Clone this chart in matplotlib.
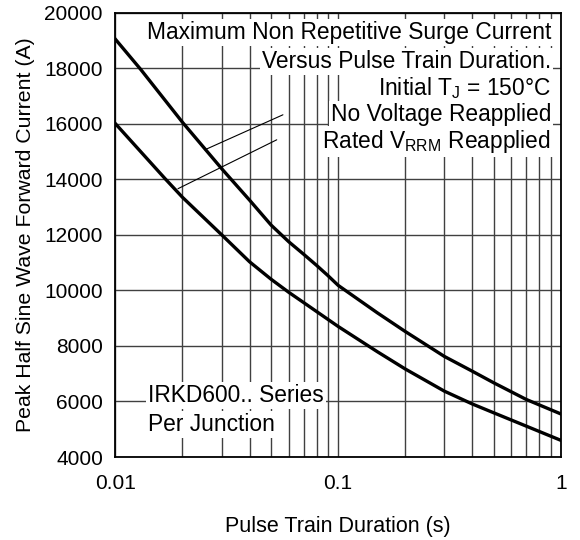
import matplotlib
matplotlib.use("Agg")
import matplotlib.pyplot as plt
from matplotlib.ticker import FixedLocator, NullFormatter, FixedFormatter

# Data
no_volt_t = [0.01, 0.013, 0.02, 0.03, 0.04, 0.05, 0.06, 0.07, 0.08, 0.09, 0.1,
             0.15, 0.2, 0.3, 0.4, 0.5, 0.7, 1.0]
no_volt_i = [19040, 17950, 16050, 14380, 13250, 12350, 11750, 11300, 10900, 10530, 10180,
             9190, 8520, 7620, 7090, 6670, 6070, 5550]
rated_t = [0.01, 0.0168, 0.02, 0.03, 0.04, 0.05, 0.06, 0.07, 0.1, 0.15, 0.2, 0.3,
           0.4, 0.5, 0.7, 1.0]
rated_i = [16000, 14000, 13350, 12000, 11030, 10400, 9930, 9560, 8700, 7790, 7170, 6370,
           5910, 5590, 5110, 4600]

x_ticks = [0.01, 0.1, 1]
x_ticklabels = ["0.01", "0.1", "1"]
x_minor = [0.02, 0.03, 0.04, 0.05, 0.06, 0.07, 0.08, 0.09,
           0.2, 0.3, 0.4, 0.5, 0.6, 0.7, 0.8, 0.9]
y_ticks = [4000, 6000, 8000, 10000, 12000, 14000, 16000, 18000, 20000]

plt.rcParams['font.family'] = ['Liberation Sans', 'DejaVu Sans']

fig = plt.figure(figsize=(5.8, 5.4), dpi=100)
ax = fig.add_axes([0.199, 0.1537, 0.768, 0.823])

ax.set_xscale('log')
ax.set_xlim(0.01, 1)
ax.set_ylim(4000, 20000)

ax.xaxis.set_major_locator(FixedLocator(x_ticks))
ax.xaxis.set_major_formatter(FixedFormatter(x_ticklabels))
ax.xaxis.set_minor_locator(FixedLocator(x_minor))
ax.xaxis.set_minor_formatter(NullFormatter())
ax.set_yticks(y_ticks)
ax.set_yticklabels([str(v) for v in y_ticks])

ax.tick_params(axis='both', which='both', length=0, labelsize=15)
ax.tick_params(axis='x', pad=12)
ax.tick_params(axis='y', pad=9)

ax.grid(True, which='both', axis='x', color='#404040', lw=1.0)
ax.grid(True, which='major', axis='y', color='#404040', lw=1.0)
ax.set_axisbelow(True)
for s in ax.spines.values():
    s.set_linewidth(1.3)
    s.set_color('black')

ax.plot(no_volt_t, no_volt_i, color='black', lw=2.4, zorder=3)
ax.plot(rated_t, rated_i, color='black', lw=2.4, zorder=3)

ax.set_xlabel("Pulse Train Duration (s)", fontsize=15.5, labelpad=17)
ax.set_ylabel("Peak Half Sine Wave Forward Current (A)", fontsize=15.3, labelpad=7)

box = dict(facecolor='white', edgecolor='none', pad=1.5)
lines = ["Maximum Non Repetitive Surge Current",
         "Versus Pulse Train Duration.",
         r"Initial T$_\mathregular{J}$ = 150°C",
         "No Voltage Reapplied",
         r"Rated V$_\mathregular{RRM}$ Reapplied"]
ys = [0.955, 0.889, 0.830, 0.771, 0.710]
for t, yy in zip(lines, ys):
    ax.text(0.978, yy, t, transform=ax.transAxes, ha='right', va='center',
            fontsize=16.4, bbox=box, zorder=4)

ax.text(0.073, 0.138, "IRKD600.. Series", transform=ax.transAxes, ha='left',
        va='center', fontsize=16.4, bbox=box, zorder=4)
ax.text(0.073, 0.074, "Per Junction", transform=ax.transAxes, ha='left',
        va='center', fontsize=16.4, bbox=box, zorder=4)

# leader lines
ax.annotate("", xy=(0.0252, 15060), xytext=(0.0565, 16320),
            arrowprops=dict(arrowstyle='-', color='black', lw=0.8,
                            shrinkA=0, shrinkB=0), zorder=5)
ax.annotate("", xy=(0.0191, 13660), xytext=(0.053, 15420),
            arrowprops=dict(arrowstyle='-', color='black', lw=0.8,
                            shrinkA=0, shrinkB=0), zorder=5)

fig.savefig("out.png", dpi=100)
